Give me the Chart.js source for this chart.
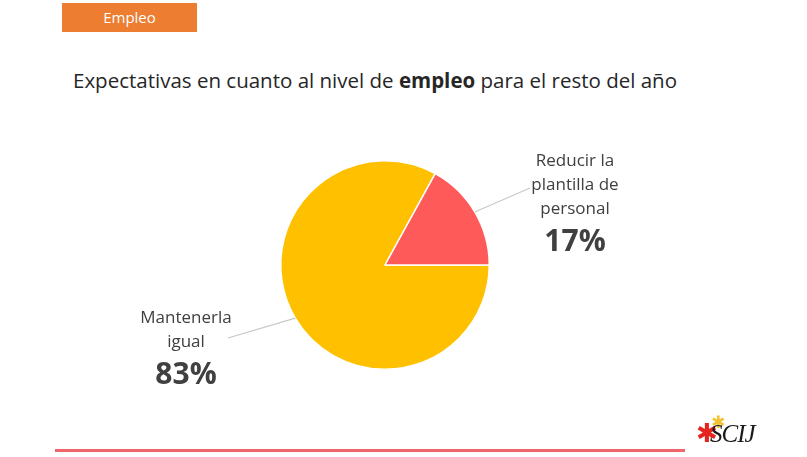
<!DOCTYPE html>
<html>
<head>
<meta charset="utf-8">
<script src="https://cdn.jsdelivr.net/npm/chart.js@4"></script>
<style>
body { margin:0; background:#fff; font-family:"Open Sans", sans-serif; }
#page { position:relative; width:807px; height:457px; overflow:hidden; }
#tab { position:absolute; left:62px; top:3px; width:135px; height:29px; background:#ED7D31; color:#fff; font-size:15px; line-height:29px; text-align:center; }
#title { position:absolute; left:73px; top:66px; font-size:20.5px; color:#262626; white-space:nowrap; }
#chart { position:absolute; left:0; top:0; }
#rule { position:absolute; left:55px; top:449px; width:630px; height:3px; background:#F0646A; }
#logo { position:absolute; left:696px; top:416px; width:80px; height:40px; }
#logo .t { position:absolute; left:14px; top:4px; font-family:"Liberation Serif", serif; font-style:italic; font-size:25px; color:#1a1a1a; letter-spacing:-1px; }
#logo .r { position:absolute; left:0px; top:2px; font-size:26px; color:#E52420; font-family:"DejaVu Sans"; }
#logo .y { position:absolute; left:15px; top:-4px; font-size:17px; color:#F2C232; font-family:"DejaVu Sans"; }
</style>
</head>
<body>
<div id="page">
  <div id="tab">Empleo</div>
  <div id="title">Expectativas en cuanto al nivel de <b>empleo</b> para el resto del año</div>
  <canvas id="chart" width="807" height="457"></canvas>
  <div id="rule"></div>
  <div id="logo"><span class="r">✱</span><span class="y">✱</span><span class="t">SCIJ</span></div>
</div>
<script>
var categories = [["Mantenerla", "igual"], ["Reducir la", "plantilla de", "personal"]];
var values = [83, 17];
var sliceColors = ['#FFC000', '#FF5A5A'];

// where each label sits relative to its slice (leader end, text centre)
var labelSpots = [
  { lx: 228, ly: 338, tx: 186, ty: 318 },
  { lx: 530, ly: 188, tx: 575, ty: 161 }
];

var outsideLabels = {
  id: 'outsideLabels',
  afterDraw: function(chart) {
    var ctx = chart.ctx;
    var arcs = chart.getDatasetMeta(0).data;
    arcs.forEach(function(arc, i) {
      var mid = (arc.startAngle + arc.endAngle) / 2;
      var ax = arc.x + Math.cos(mid) * arc.outerRadius;
      var ay = arc.y + Math.sin(mid) * arc.outerRadius;
      var s = labelSpots[i];
      ctx.save();
      ctx.strokeStyle = '#c8c8c8';
      ctx.lineWidth = 1.2;
      ctx.beginPath();
      ctx.moveTo(ax, ay);
      ctx.lineTo(s.lx, s.ly);
      ctx.stroke();
      ctx.fillStyle = '#404040';
      ctx.textAlign = 'center';
      ctx.textBaseline = 'middle';
      ctx.font = '17px "Open Sans"';
      var lines = categories[i];
      lines.forEach(function(t, k) {
        ctx.fillText(t, s.tx, s.ty + k * 24);
      });
      ctx.font = 'bold 30px "Open Sans"';
      ctx.fillText(values[i] + '%', s.tx, s.ty + lines.length * 24 + 9);
      ctx.restore();
    });
  }
};

new Chart(document.getElementById('chart'), {
  type: 'pie',
  data: {
    labels: categories.map(function(c) { return c.join(' '); }),
    datasets: [{
      data: values,
      backgroundColor: sliceColors,
      borderColor: '#ffffff',
      borderWidth: 1.5
    }]
  },
  options: {
    responsive: false,
    animation: false,
    rotation: 90,
    layout: { padding: { left: 280, right: 317, top: 160, bottom: 87 } },
    plugins: { legend: { display: false }, tooltip: { enabled: false } }
  },
  plugins: [outsideLabels]
});
</script>
</body>
</html>
